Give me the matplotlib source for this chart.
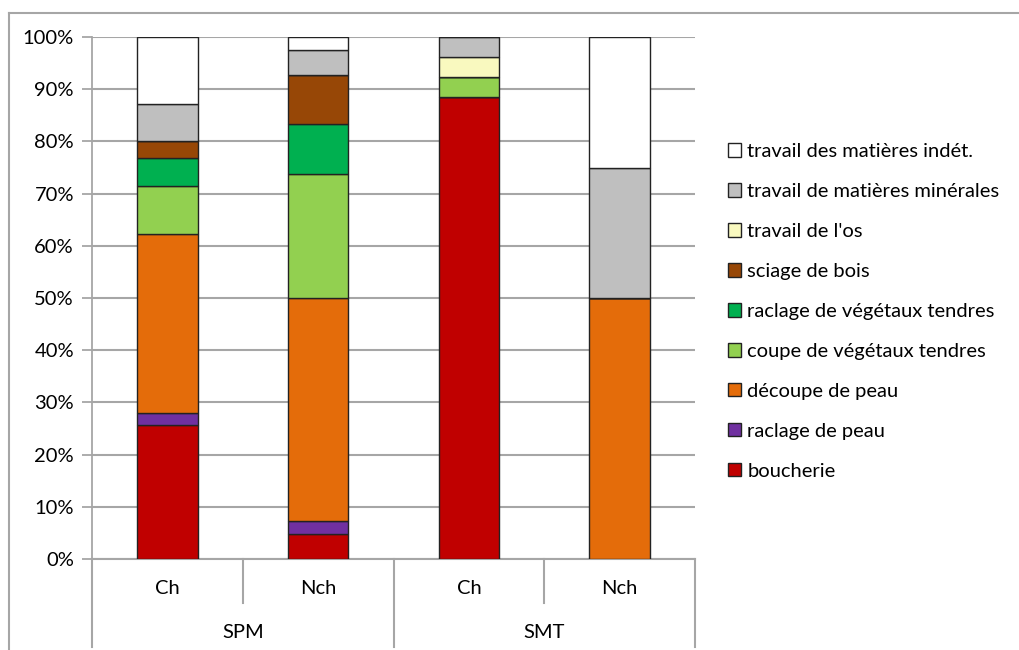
import matplotlib
matplotlib.use('Agg')
import matplotlib.pyplot as plt
from matplotlib.lines import Line2D
import numpy as np

plt.rcParams['font.family'] = ['Lato', 'DejaVu Sans']

# data (percent of each bar, bottom to top)
sub_labels = ['Ch', 'Nch', 'Ch', 'Nch']
group_labels = ['SPM', 'SMT']
series = ['boucherie', 'raclage de peau', 'découpe de peau',
          'coupe de végétaux tendres', 'raclage de végétaux tendres',
          'sciage de bois', "travail de l'os",
          'travail de matières minérales', 'travail des matières indét.']
boucherie = [25.6, 4.8, 88.5, 0]
raclage_peau = [2.3, 2.4, 0, 0]
decoupe_peau = [34.4, 42.8, 0, 50]
coupe_veg = [9.2, 23.8, 3.85, 0]
raclage_veg = [5.4, 9.5, 0, 0]
sciage_bois = [3.2, 9.5, 0, 0]
travail_os = [0, 0, 3.85, 0]
mineral = [7.0, 4.8, 3.8, 25]
indet = [12.9, 2.4, 0, 25]
values = [boucherie, raclage_peau, decoupe_peau, coupe_veg, raclage_veg,
          sciage_bois, travail_os, mineral, indet]
colors = ['#C00000', '#7030A0', '#E46C0A', '#92D050', '#00B050',
          '#974706', '#F9F9BF', '#BFBFBF', '#FFFFFF']

fs = 14.5

fig = plt.figure(figsize=(10.19, 6.5), dpi=100)
ax = fig.add_axes([92 / 1019, 1 - 559 / 650, (695 - 92) / 1019, (559 - 37) / 650])

x = np.arange(len(sub_labels))
bottom = np.zeros(len(sub_labels))
handles = []
for name, vals, c in zip(series, values, colors):
    v = np.array(vals, dtype=float)
    b = ax.bar(x, v, width=0.4, bottom=bottom, color=c, edgecolor='#222222',
               linewidth=1.0, label=name, zorder=3)
    handles.append(b)
    bottom += v

ax.set_xlim(-0.5, 3.5)
ax.set_ylim(0, 100)
ax.set_yticks(np.arange(0, 101, 10))
ax.set_yticklabels(['%d%%' % t for t in range(0, 101, 10)], fontsize=fs)
ax.tick_params(axis='y', length=7, width=1.3, color='#A6A6A6', pad=6)
ax.set_xticks([])
ax.grid(axis='y', color='#A6A6A6', linewidth=1.5, zorder=0)
for s in ['top', 'right']:
    ax.spines[s].set_visible(False)
ax.spines['left'].set_color('#A6A6A6')
ax.spines['left'].set_linewidth(1.3)
ax.spines['bottom'].set_color('#A6A6A6')
ax.spines['bottom'].set_linewidth(1.5)

# two level category axis
tr = ax.get_xaxis_transform()
for xi in [0.5, 2.5]:
    ax.plot([xi, xi], [0, -0.084], transform=tr, color='#A6A6A6', lw=1.5, clip_on=False)
for xi in [-0.5, 1.5, 3.5]:
    ax.plot([xi, xi], [0, -0.168], transform=tr, color='#A6A6A6', lw=1.5, clip_on=False)
for xi, lab in zip(x, sub_labels):
    ax.text(xi, -0.057, lab, transform=tr, ha='center', va='center', fontsize=fs)
for xi, lab in zip([0.5, 2.5], group_labels):
    ax.text(xi, -0.140, lab, transform=tr, ha='center', va='center', fontsize=fs)

# outer chart frame
fig.add_artist(Line2D([9 / 1019, 9 / 1019], [0, 1 - 13 / 650], transform=fig.transFigure,
                      color='#A6A6A6', lw=1.5))
fig.add_artist(Line2D([9 / 1019, 1], [1 - 13 / 650, 1 - 13 / 650], transform=fig.transFigure,
                      color='#A6A6A6', lw=1.5))

leg = fig.legend(handles[::-1], series[::-1], loc='upper left',
                 bbox_to_anchor=(718 / 1019, 1 - 133 / 650), frameon=False,
                 fontsize=fs, handlelength=0.65, handleheight=0.65,
                 handletextpad=0.3, labelspacing=1.14, borderpad=0)

fig.savefig('out.png', dpi=100)
